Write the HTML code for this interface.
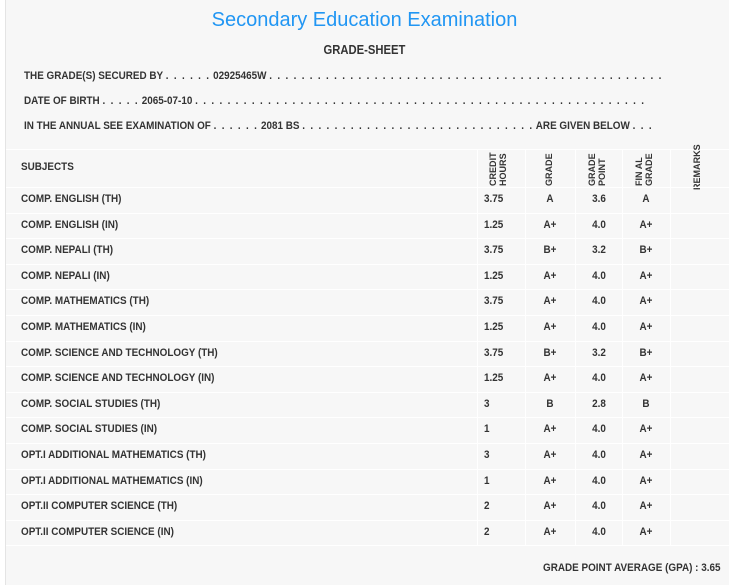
<!DOCTYPE html>
<html><head><meta charset="utf-8"><style>
body{margin:0;background:#fff;width:729px;height:585px;overflow:hidden;font-family:"Liberation Sans",sans-serif;color:#333}
.page{position:absolute;left:5px;top:0;width:724px;height:585px;background:#f7f7f7;border-left:1px solid #e4e4e4}
.t{position:absolute;white-space:nowrap;font-size:11px;font-weight:bold;transform:scaleX(.9);transform-origin:0 50%}
.d{letter-spacing:1.45px}
.title{position:absolute;left:0;width:729px;top:9px;text-align:center;font-size:20px;color:#2196f3}
.gs{position:absolute;left:0;width:729px;top:43px;text-align:center;font-size:12.5px;font-weight:bold;color:#333;transform:scaleX(.9)}
.hl{position:absolute;left:6px;width:723px;height:1px;background:#fff}
.vl{position:absolute;width:1px;background:#fff;top:149px;height:396px}
.rot{position:absolute;font-size:9.5px;font-weight:bold;transform:rotate(-90deg) scaleX(.95);transform-origin:0 0;line-height:10px;text-align:left}
.c{position:absolute;font-size:11px;font-weight:bold;text-align:center;width:48px;transform:scaleX(.9)}
</style></head><body>
<div class="page"></div>
<div class="title">Secondary Education Examination</div>
<div class="gs">GRADE-SHEET</div>
<div class="t" style="left:24px;top:70px">THE GRADE(S) SECURED BY <span class="d">. . . . . .</span> 02925465W <span class="d">. . . . . . . . . . . . . . . . . . . . . . . . . . . . . . . . . . . . . . . . . . . . . . . . .</span></div>
<div class="t" style="left:24px;top:95px">DATE OF BIRTH <span class="d">. . . . .</span> 2065-07-10 <span class="d">. . . . . . . . . . . . . . . . . . . . . . . . . . . . . . . . . . . . . . . . . . . . . . . . . . . . . . . .</span></div>
<div class="t" style="left:24px;top:120px">IN THE ANNUAL SEE EXAMINATION OF <span class="d">. . . . . .</span> 2081 BS <span class="d">. . . . . . . . . . . . . . . . . . . . . . . . . . . . .</span> ARE GIVEN BELOW <span class="d">. . .</span></div>
<div class="hl" style="top:149px"></div>
<div class="t" style="left:21px;top:161px">SUBJECTS</div>
<div class="rot" style="left:489px;top:186px">CREDIT<br>HOURS</div>
<div class="rot" style="left:545px;top:186px">GRADE</div>
<div class="rot" style="left:588px;top:186px">GRADE<br>POINT</div>
<div class="rot" style="left:635px;top:186px">FIN AL<br>GRADE</div>
<div class="rot" style="left:693px;top:190px">REMARKS</div>
<div class="vl" style="left:477px"></div>
<div class="vl" style="left:525px"></div>
<div class="vl" style="left:575px"></div>
<div class="vl" style="left:622px"></div>
<div class="vl" style="left:670px"></div>
<div id="rows"></div>
<div class="t" style="left:543px;top:562px">GRADE POINT AVERAGE (GPA) : 3.65</div>
<script>
var d=[["COMP. ENGLISH (TH)","3.75","A","3.6","A"],["COMP. ENGLISH (IN)","1.25","A+","4.0","A+"],["COMP. NEPALI (TH)","3.75","B+","3.2","B+"],["COMP. NEPALI (IN)","1.25","A+","4.0","A+"],["COMP. MATHEMATICS (TH)","3.75","A+","4.0","A+"],["COMP. MATHEMATICS (IN)","1.25","A+","4.0","A+"],["COMP. SCIENCE AND TECHNOLOGY (TH)","3.75","B+","3.2","B+"],["COMP. SCIENCE AND TECHNOLOGY (IN)","1.25","A+","4.0","A+"],["COMP. SOCIAL STUDIES (TH)","3","B","2.8","B"],["COMP. SOCIAL STUDIES (IN)","1","A+","4.0","A+"],["OPT.I ADDITIONAL MATHEMATICS (TH)","3","A+","4.0","A+"],["OPT.I ADDITIONAL MATHEMATICS (IN)","1","A+","4.0","A+"],["OPT.II COMPUTER SCIENCE (TH)","2","A+","4.0","A+"],["OPT.II COMPUTER SCIENCE (IN)","2","A+","4.0","A+"]];
var h="";
for(var i=0;i<d.length;i++){var y=187+i*25.6;var ty=y+6;
h+='<div class="hl" style="top:'+Math.round(y)+'px"></div>';
h+='<div class="t" style="left:21px;top:'+ty+'px">'+d[i][0]+'</div>';
h+='<div class="t" style="left:484px;top:'+ty+'px">'+d[i][1]+'</div>';
h+='<div class="c" style="left:526px;top:'+ty+'px">'+d[i][2]+'</div>';
h+='<div class="c" style="left:575px;top:'+ty+'px">'+d[i][3]+'</div>';
h+='<div class="c" style="left:622px;top:'+ty+'px">'+d[i][4]+'</div>';}
h+='<div class="hl" style="top:545px"></div>';
document.getElementById("rows").innerHTML=h;
</script>
</body></html>
